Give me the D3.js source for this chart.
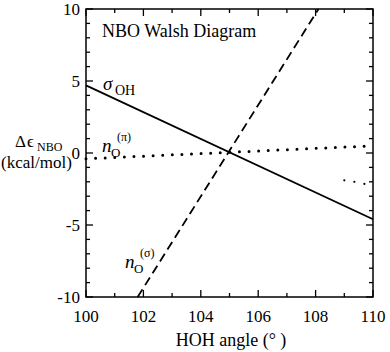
<!DOCTYPE html>
<html><head><meta charset="utf-8">
<script src="https://cdn.jsdelivr.net/npm/d3@7"></script>
<style>body{margin:0;background:#fff}svg{display:block}</style>
</head><body>
<svg id="c" width="390" height="352" font-family="'Liberation Serif', 'DejaVu Serif', serif"></svg>
<script>
// Data (HOH angle in degrees, energy change in kcal/mol)
const sigmaOH_angle = [100, 110];
const sigmaOH_value = [4.7, -4.6];
const nPi_angle = [100, 110];
const nPi_value = [-0.4, 0.5];
const nSigma_angle = [101.8, 108.1];
const nSigma_value = [-10, 10];
const stray_angle = [109.0, 109.35, 109.7];
const stray_value = [-1.9, -2.0, -2.15];
const xTicks = [100, 102, 104, 106, 108, 110];
const yTicks = [-10, -5, 0, 5, 10];

const svg = d3.select("#c");
const x = d3.scaleLinear().domain([100, 110]).range([86, 373]);
const y = d3.scaleLinear().domain([-10, 10]).range([297, 9]);

const g = svg.append("g");
// frame
g.append("rect").attr("x", x(100)).attr("y", y(10)).attr("width", x(110) - x(100)).attr("height", y(-10) - y(10))
  .attr("fill", "none").attr("stroke", "#000").attr("stroke-width", 1.5);

// ticks (inside, all four sides)
const xMinor = d3.range(100, 110.01, 1);
const yMinor = d3.range(-10, 10.01, 1);
xMinor.forEach(v => {
  const len = (v % 2 === 0) ? 7 : 4;
  g.append("line").attr("x1", x(v)).attr("x2", x(v)).attr("y1", y(-10)).attr("y2", y(-10) - len).attr("stroke", "#000").attr("stroke-width", 1.3);
  g.append("line").attr("x1", x(v)).attr("x2", x(v)).attr("y1", y(10)).attr("y2", y(10) + len).attr("stroke", "#000").attr("stroke-width", 1.3);
});
yMinor.forEach(v => {
  const len = (v % 5 === 0) ? 7 : 4;
  g.append("line").attr("x1", x(100)).attr("x2", x(100) + len).attr("y1", y(v)).attr("y2", y(v)).attr("stroke", "#000").attr("stroke-width", 1.3);
  g.append("line").attr("x1", x(110)).attr("x2", x(110) - len).attr("y1", y(v)).attr("y2", y(v)).attr("stroke", "#000").attr("stroke-width", 1.3);
});

// tick labels
g.selectAll(".xt").data(xTicks).enter().append("text")
  .attr("x", d => x(d)).attr("y", 322).attr("text-anchor", "middle").attr("font-size", 17).text(d => d);
g.selectAll(".yt").data(yTicks).enter().append("text")
  .attr("x", 80).attr("y", d => y(d)).attr("dy", "0.35em").attr("text-anchor", "end").attr("font-size", 17).text(d => d);

// axis titles
g.append("text").attr("x", 231).attr("y", 346).attr("text-anchor", "middle").attr("font-size", 18).text("HOH angle (\u00b0 )");
g.append("text").attr("x", 15).attr("y", 147).attr("font-size", 17).text("\u0394");
g.append("text").attr("x", 27).attr("y", 147).attr("font-size", 17).text("\u03f5");
g.append("text").attr("x", 37).attr("y", 151).attr("font-size", 12).text("NBO");
g.append("text").attr("x", 1).attr("y", 168).attr("font-size", 17).text("(kcal/mol)");

// title
g.append("text").attr("x", 102).attr("y", 37).attr("font-size", 18).text("NBO Walsh Diagram");

// lines
const line = d3.line().x(d => x(d[0])).y(d => y(d[1]));
svg.append("path").datum(d3.zip(sigmaOH_angle, sigmaOH_value)).attr("d", line)
  .attr("fill", "none").attr("stroke", "#000").attr("stroke-width", 1.8);
svg.append("path").datum(d3.zip(nSigma_angle, nSigma_value)).attr("d", line)
  .attr("fill", "none").attr("stroke", "#000").attr("stroke-width", 1.8).attr("stroke-dasharray", "9,5");
svg.append("path").datum(d3.zip(nPi_angle, nPi_value)).attr("d", line)
  .attr("fill", "none").attr("stroke", "#000").attr("stroke-width", 3).attr("stroke-linecap", "round").attr("stroke-dasharray", "0,9.6");
svg.selectAll(".stray").data(d3.zip(stray_angle, stray_value)).enter().append("circle")
  .attr("cx", d => x(d[0])).attr("cy", d => y(d[1])).attr("r", 1.1).attr("fill", "#000");

// annotations
g.append("text").attr("x", 103).attr("y", 90).attr("font-size", 19).attr("font-style", "italic").text("\u03c3");
g.append("text").attr("x", 115).attr("y", 95).attr("font-size", 14).text("OH");

function nLabel(xp, yp, sup) {
  g.append("text").attr("x", xp).attr("y", yp).attr("font-size", 19).attr("font-style", "italic").text("n");
  g.append("text").attr("x", xp + 9).attr("y", yp + 5).attr("font-size", 13).text("O");
  g.append("text").attr("x", xp + 15).attr("y", yp - 11).attr("font-size", 12).text(sup);
}
nLabel(102, 152, "(\u03c0)");
nLabel(125, 268, "(\u03c3)");
</script>
</body></html>
